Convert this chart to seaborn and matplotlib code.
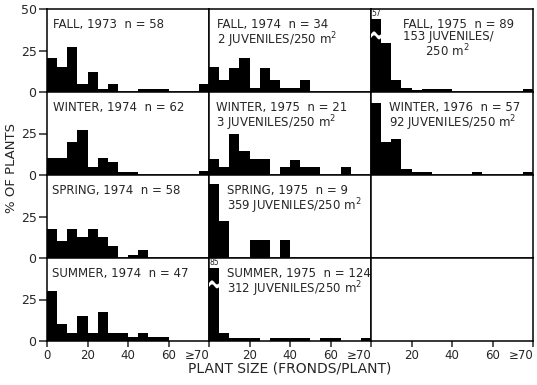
import numpy as np
import pandas as pd
import matplotlib
matplotlib.use("Agg")
import matplotlib.pyplot as plt
import seaborn as sns

# ---- data: % of plants per 5-frond size class (last class = >=70) ----
bin_edges = [0, 5, 10, 15, 20, 25, 30, 35, 40, 45, 50, 55, 60, 65, 70, 75, 80]

fall_1973   = [20.5, 15.2, 27.3, 5.1, 12.1, 1.8, 5.1, 0, 0, 1.8, 1.8, 1.8, 0, 0, 0, 5.1]
fall_1974   = [15.0, 7.4, 14.7, 20.3, 2.6, 14.7, 7.2, 2.5, 2.5, 7.2, 0, 0, 0, 0, 0, 0]
fall_1975   = [57, 29.6, 7.1, 2.5, 1.0, 2.0, 2.0, 2.0, 0, 0, 0, 0, 0, 0, 0, 2.0]
winter_1974 = [10.0, 10.0, 20.0, 27.0, 5.0, 10.0, 7.6, 2.0, 2.0, 0, 0, 0, 0, 0, 0, 2.2]
winter_1975 = [9.5, 4.8, 24.5, 14.3, 9.5, 9.5, 0, 4.8, 9.3, 4.8, 4.8, 0, 0, 4.8, 0, 0]
winter_1976 = [43.6, 19.6, 21.6, 3.4, 1.7, 1.7, 0, 0, 0, 0, 1.7, 0, 0, 0, 0, 1.7]
spring_1974 = [17.2, 10.0, 17.2, 12.5, 17.2, 12.5, 7.1, 0, 1.8, 5.0, 0, 0, 0, 0, 0, 0]
spring_1975 = [44.4, 22.2, 0, 0, 11.1, 11.1, 0, 11.1, 0, 0, 0, 0, 0, 0, 0, 0]
summer_1974 = [30.2, 10.5, 4.6, 15.0, 4.6, 17.3, 4.6, 4.6, 2.2, 4.6, 2.2, 2.2, 0, 0, 0, 0]
summer_1975 = [85, 4.8, 1.8, 1.8, 1.8, 0, 1.8, 1.8, 1.8, 1.8, 0, 1.8, 1.8, 0, 0, 1.8]

panel_labels = [
    ["FALL, 1973  n = 58",
     "FALL, 1974  n = 34\n2 JUVENILES/250 m$^2$",
     "FALL, 1975  n = 89\n153 JUVENILES/\n      250 m$^2$"],
    ["WINTER, 1974  n = 62",
     "WINTER, 1975  n = 21\n3 JUVENILES/250 m$^2$",
     "WINTER, 1976  n = 57\n92 JUVENILES/250 m$^2$"],
    ["SPRING, 1974  n = 58",
     "SPRING, 1975  n = 9\n359 JUVENILES/250 m$^2$",
     None],
    ["SUMMER, 1974  n = 47",
     "SUMMER, 1975  n = 124\n312 JUVENILES/250 m$^2$",
     None],
]
panel_data = [
    [fall_1973, fall_1974, fall_1975],
    [winter_1974, winter_1975, winter_1976],
    [spring_1974, spring_1975, None],
    [summer_1974, summer_1975, None],
]
xtick_vals = [0, 20, 40, 60, 80]
xtick_labels = ["0", "20", "40", "60", "\u226570"]

# ---- styling ----
sns.set_style("ticks")
plt.rcParams["font.family"] = ["DejaVu Sans"]

W, H = 537, 385
fig, axes = plt.subplots(4, 3, figsize=(W / 100, H / 100), dpi=100)
fig.subplots_adjust(left=47 / W, right=533 / W, top=1 - 9 / H, bottom=1 - 341 / H,
                    hspace=0, wspace=0)

edges = [float(e) for e in bin_edges]
centers = [e + 2.5 for e in edges[:-1]]
YMAX = 50.0
CAP = 44.0

text_x = [[0.037, 0.047, 0.198], [0.039, 0.045, 0.11], [0.029, 0.109, 0], [0.033, 0.109, 0]]

for r in range(4):
    for c in range(3):
        ax = axes[r, c]
        vals = panel_data[r][c]
        if vals is not None:
            shown = [CAP if v > YMAX else v for v in vals]
            df = pd.DataFrame({"size": centers, "pct": shown})
            sns.histplot(data=df, x="size", weights="pct", bins=edges, ax=ax,
                         color="black", alpha=1, linewidth=0, element="bars",
                         fill=True)
            for i, v in enumerate(vals):
                if v > YMAX:
                    x0, x1 = edges[i], edges[i + 1]
                    xs = np.linspace(x0 - 0.3, x1 + 0.3, 40)
                    wave = 1.2 * np.sin((xs - x0) / (x1 - x0) * 2 * np.pi)
                    ax.fill_between(xs, 33.2 + wave, 35.6 + wave, color="white",
                                    zorder=3, linewidth=0)
                    ax.text((x0 + x1) / 2, CAP + 0.6, str(v), fontsize=5.5,
                            ha="center", va="bottom", zorder=4)
        ax.set_xlim(0, 80)
        ax.set_ylim(0, YMAX)
        ax.set_xlabel("")
        ax.set_ylabel("")
        for s in ax.spines.values():
            s.set_visible(True)
            s.set_linewidth(1.1)
            s.set_color("black")
        # ticks
        if c == 0:
            ax.set_yticks([0, 25, 50] if r == 0 else [0, 25])
            ax.tick_params(axis="y", length=6, width=1.1, pad=1.5, labelsize=9)
        else:
            ax.set_yticks([])
        if r == 3:
            if c == 0:
                ax.set_xticks(xtick_vals)
                labs = ax.set_xticklabels(xtick_labels)
            else:
                ax.set_xticks(xtick_vals[1:])
                labs = ax.set_xticklabels(xtick_labels[1:])
            labs[-1].set_horizontalalignment("right")
            ax.tick_params(axis="x", length=4, width=1.1, pad=2, labelsize=8.5)
        else:
            ax.set_xticks([])
        # panel text
        t = panel_labels[r][c]
        if t is not None:
            ax.text(text_x[r][c], 0.89, t, transform=ax.transAxes, fontsize=8.5,
                    ha="left", va="top", linespacing=0.92)

fig.text(0.022, 1 - 168 / H, "% OF PLANTS", rotation=90, ha="center",
         va="center", fontsize=9.5)
fig.text(290 / W, 1 - 368 / H, "PLANT SIZE (FRONDS/PLANT)", ha="center",
         va="center", fontsize=10)

fig.savefig("out.png", dpi=100)
